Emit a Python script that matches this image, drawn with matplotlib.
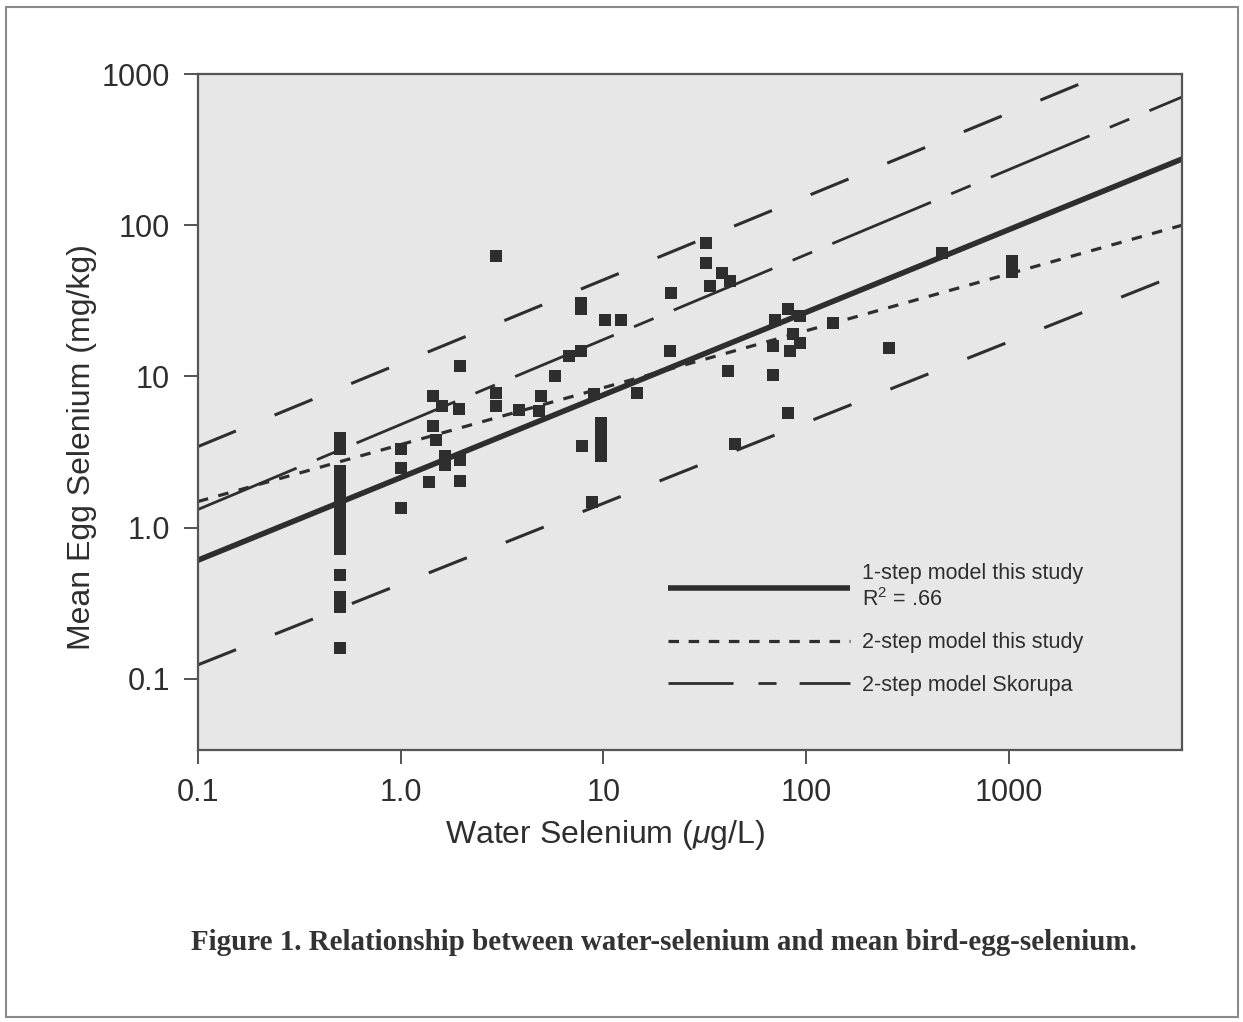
import matplotlib
matplotlib.use("Agg")
import matplotlib.pyplot as plt
from matplotlib.lines import Line2D
from matplotlib.patches import Rectangle

plt.rcParams['font.family'] = ['Liberation Sans', 'DejaVu Sans']
plt.rcParams['mathtext.fontset'] = 'custom'
plt.rcParams['mathtext.rm'] = 'Liberation Sans'
plt.rcParams['mathtext.it'] = 'Liberation Sans:italic'

INK = '#2e2e2e'

# data points (water Se ug/L, egg Se mg/kg)
water_se = [0.5, 0.5, 0.5, 0.5, 0.5, 0.5, 0.5, 0.5, 0.5, 0.5, 0.5, 0.5, 0.5, 0.5,
            1.0, 1.0, 1.0,
            1.45, 1.6, 1.45, 1.5, 1.65, 1.65, 1.38,
            1.97, 1.95, 1.97, 1.97,
            2.94, 2.94, 2.94,
            3.84, 4.9, 4.8, 5.8, 6.8, 7.76, 7.76, 7.76, 7.8,
            9.0, 8.8, 9.75, 9.75, 9.75, 9.75, 10.2, 12.2, 14.7,
            21.6, 21.2,
            32.2, 32.2, 33.5, 38.3, 42.1, 41.3, 44.6,
            70.3, 68.9, 68.9, 81.7, 83.4, 86, 93.3, 93.3, 81.7,
            135.5, 256, 470, 1042, 1042]
egg_se = [3.9, 3.3, 2.38, 1.99, 1.66, 1.39, 1.16, 0.96, 0.80, 0.72, 0.49, 0.35, 0.30, 0.16,
          3.3, 2.5, 1.35,
          7.4, 6.4, 4.7, 3.8, 3.0, 2.6, 2.0,
          11.8, 6.1, 2.8, 2.05,
          62.6, 7.8, 6.35,
          6.0, 7.4, 5.9, 10.0, 13.6, 14.7, 30.5, 28.0, 3.46,
          7.6, 1.49, 4.9, 4.1, 3.4, 3.0, 23.5, 23.5, 7.8,
          35.8, 14.7,
          76.8, 56.6, 39.6, 48.6, 42.8, 10.8, 3.55,
          23.8, 15.9, 10.3, 27.8, 14.7, 19.0, 25.1, 16.7, 5.75,
          22.7, 15.5, 66.0, 57.8, 48.8]

# model lines, values at the left and right ends of the x range
line_x = [0.1, 7150]
one_step = [0.61, 274]
two_step = [1.49, 100]
skorupa = [1.32, 704]
skorupa_upper = [3.44, 1630]
skorupa_lower = [0.124, 48.4]

fig = plt.figure(figsize=(12.43, 10.22), dpi=100)
fig.patches.append(Rectangle((6 / 1243, 1 - 1017 / 1022), 1232 / 1243, 1010 / 1022,
                             transform=fig.transFigure, fill=False,
                             edgecolor='#8a8a8a', linewidth=1.5))

ax = fig.add_axes([198 / 1243, 1 - 750 / 1022, 984 / 1243, 676 / 1022])
ax.set_facecolor('#e7e7e7')
ax.set_xscale('log')
ax.set_yscale('log')
ax.set_xlim(0.1, 7150)
ax.set_ylim(0.0339, 1000)

ax.plot(line_x, skorupa_upper, color=INK, lw=2.2, dashes=(13.4, 13.7))
ax.plot(line_x, skorupa_lower, color=INK, lw=2.2, dashes=(13.4, 13.7))
ax.plot(line_x, skorupa, color=INK, lw=2.0, dashes=(38.5, 7.9, 7.6, 7.9))
ax.plot(line_x, two_step, color=INK, lw=2.3, dashes=(3.3, 3.3))
ax.plot(line_x, one_step, color=INK, lw=4.0, solid_capstyle='butt')
ax.plot(water_se, egg_se, 's', color=INK, markersize=9.3, markeredgewidth=0)

ticks = [0.1, 1, 10, 100, 1000]
tick_labels = ['0.1', '1.0', '10', '100', '1000']
ax.set_xticks(ticks)
ax.set_xticklabels(tick_labels)
ax.set_yticks(ticks)
ax.set_yticklabels(tick_labels)
ax.minorticks_off()
ax.tick_params(axis='both', direction='out', length=10, width=1.3, pad=10,
               labelsize=22, color='#444444', labelcolor=INK)
for sp in ax.spines.values():
    sp.set_color('#555555')
    sp.set_linewidth(1.6)

ax.set_xlabel(r'Water Selenium ($\mu$g/L)', fontsize=23, color=INK)
ax.set_ylabel('Mean Egg Selenium (mg/kg)', fontsize=23, color=INK)
ax.xaxis.set_label_coords(0.4136, -0.100)
ax.yaxis.set_label_coords(-0.103, 0.4475)

handles = [
    Line2D([], [], color=INK, lw=4.0, solid_capstyle='butt'),
    Line2D([], [], color=INK, lw=2.3, dashes=(3.3, 3.0)),
    Line2D([], [], color=INK, lw=2.0, dashes=(23.4, 9, 6.5, 8.3, 30, 10)),
]
labels = ['1-step model this study\nR$^2$ = .66',
          '2-step model this study',
          '2-step model Skorupa']
ax.legend(handles, labels, loc='upper left', bbox_to_anchor=(0.4776, 0.276),
          frameon=False, fontsize=15.5, handlelength=8.45, handletextpad=0.55,
          labelspacing=1.0, borderpad=0, borderaxespad=0, labelcolor=INK)

fig.text(663.5 / 1243, 1 - 942 / 1022,
         'Figure 1. Relationship between water-selenium and mean bird-egg-selenium.',
         ha='center', va='center', fontsize=20.9, fontweight='bold',
         family=['Liberation Serif', 'DejaVu Serif'], color='#333333')

fig.savefig('out.png', dpi=100)
